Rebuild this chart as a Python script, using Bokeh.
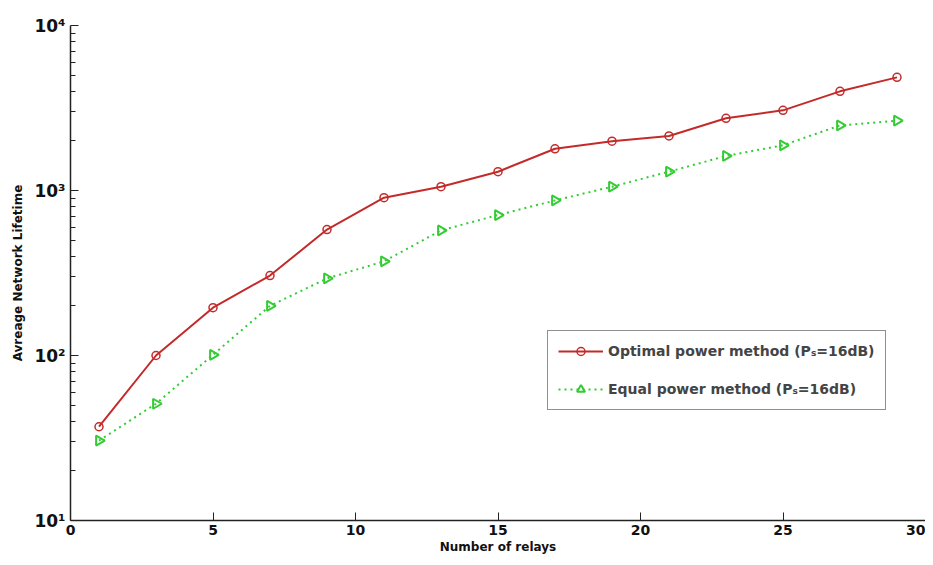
from bokeh.plotting import figure
from bokeh.models import Legend, LegendItem, Range1d, FixedTicker
from bokeh.embed import file_html
from bokeh.resources import INLINE
import math

relays = [1, 3, 5, 7, 9, 11, 13, 15, 17, 19, 21, 23, 25, 27, 29]
optimal = [37, 100, 195, 305, 580, 905, 1055, 1300, 1790, 1990, 2140, 2740, 3060, 3990, 4850]
equal = [30.5, 51, 101, 200, 293, 372, 573, 710, 870, 1055, 1300, 1620, 1880, 2480, 2650]
x_ticks = [0, 5, 10, 15, 20, 25, 30]
y_major = [10, 100, 1000, 10000]
y_minor = [m * d for d in (10, 100, 1000) for m in range(2, 10)]
y_tick_labels = {10: "10\u00b9", 100: "10\u00b2", 1000: "10\u00b3", 10000: "10\u2074"}

FONT = "DejaVu Sans"

p = figure(width=925, height=557, y_axis_type="log",
           x_range=Range1d(0, 30), y_range=Range1d(10, 10000),
           output_backend="svg", toolbar_location=None,
           min_border_left=70, min_border_right=0, min_border_top=25, min_border_bottom=37)
p.outline_line_color = None
p.xgrid.visible = False
p.ygrid.visible = False

red = "#c42a2a"
green = "#33cc33"
r1 = p.line(relays, optimal, line_color=red, line_width=2)
m1 = p.scatter(relays, optimal, marker="circle", size=8, line_color=red, fill_color=None, line_width=1.5)
r2 = p.line(relays, equal, line_color=green, line_width=2, line_dash="2 4")
m2 = p.scatter(relays, equal, marker="triangle", angle=-math.pi / 2, size=10,
               line_color=green, fill_color=None, line_width=2)

p.xaxis.ticker = FixedTicker(ticks=x_ticks)
p.yaxis.ticker = FixedTicker(ticks=y_major, minor_ticks=y_minor)
p.yaxis.major_label_overrides = y_tick_labels
for ax in (p.xaxis, p.yaxis):
    ax.axis_line_color = "#222222"
    ax.axis_line_width = 1.5
    ax.major_tick_in = 8
    ax.major_tick_out = 0
    ax.minor_tick_in = 5
    ax.minor_tick_out = 0
    ax.major_tick_line_color = "#222222"
    ax.minor_tick_line_color = "#222222"
    ax.major_label_text_font = FONT
    ax.major_label_text_font_style = "bold"
    ax.major_label_text_color = "#111111"
    ax.axis_label_text_font = FONT
    ax.axis_label_text_font_style = "bold"
    ax.axis_label_text_color = "#111111"
    ax.axis_label_text_font_size = "12px"
p.xaxis.major_label_text_font_size = "14px"
p.yaxis.major_label_text_font_size = "17px"
p.xaxis.minor_tick_line_color = None
p.xaxis.major_label_standoff = 4
p.xaxis.axis_label_standoff = 2
p.yaxis.axis_label_standoff = 6
p.xaxis.axis_label = "Number of relays"
p.yaxis.axis_label = "Avreage Network Lifetime"

legend = Legend(items=[
    LegendItem(label="Optimal power method (P\u209b=16dB)", renderers=[r1, m1]),
    LegendItem(label="Equal power method (P\u209b=16dB)", renderers=[r2, m2]),
], location=(477, 110))
legend.border_line_color = "#222222"
legend.border_line_width = 1
legend.label_text_font = FONT
legend.label_text_font_style = "bold"
legend.label_text_font_size = "14px"
legend.glyph_width = 45
legend.padding = 10
legend.spacing = 18
legend.background_fill_alpha = 1
p.add_layout(legend, "center")

open("out.html", "w").write(file_html(p, INLINE))
